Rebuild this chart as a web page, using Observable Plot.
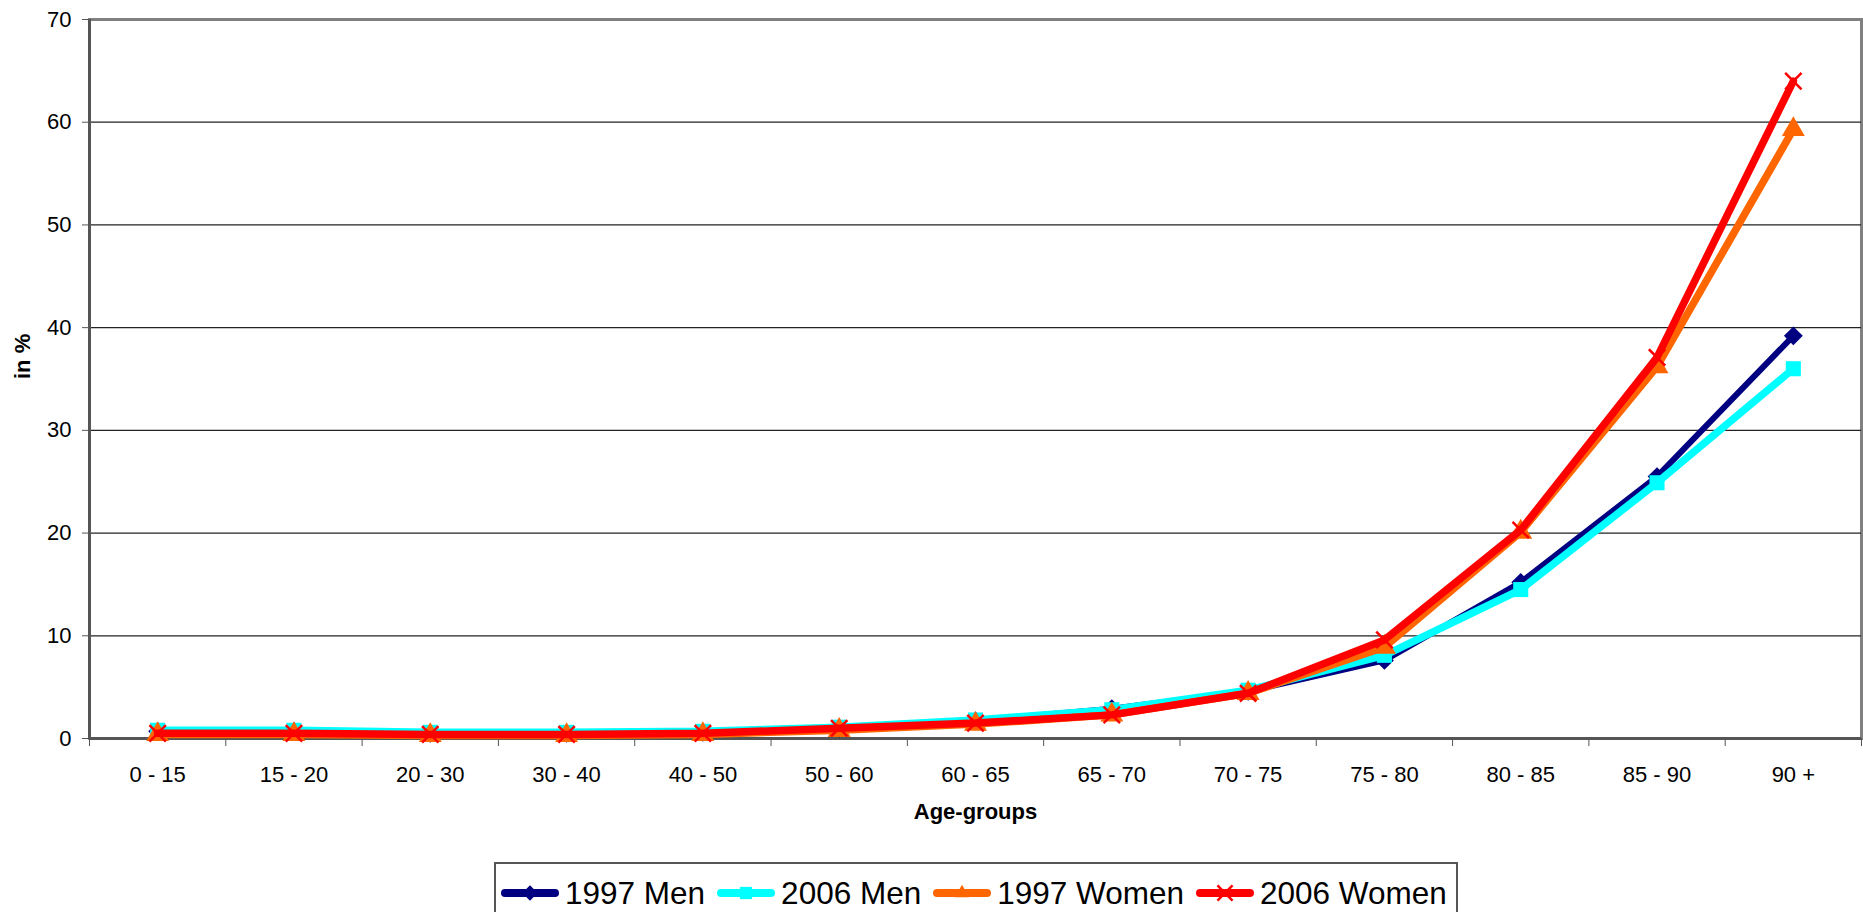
<!DOCTYPE html>
<html>
<head>
<meta charset="utf-8">
<script src="https://cdn.jsdelivr.net/npm/d3@7"></script>
<script src="https://cdn.jsdelivr.net/npm/@observablehq/plot@0.6"></script>
<style>
  html, body { margin: 0; padding: 0; background: #fff; overflow: hidden; }
  body { font-family: "Liberation Sans", Arial, sans-serif; width: 1863px; height: 912px; position: relative; }
  #legend { position: absolute; left: 494px; top: 862px; width: 964px; height: 60px; border: 2px solid #555; box-sizing: border-box; padding-top: 7px; background: #fff; }
  #legend .row { display: flex; align-items: center; height: 44px; padding-left: 5px; white-space: nowrap; }
  #legend .item { display: flex; align-items: center; margin-right: 12px; flex-shrink: 0; white-space: nowrap; }
  #legend .item svg { flex-shrink: 0; }
  #legend .item span { font-size: 31.5px; margin-left: 6px; color: #000; white-space: nowrap; }
</style>
</head>
<body>
<div id="chart"></div>
<div id="legend"><div class="row"></div></div>
<script>
const categories = ["0 - 15","15 - 20","20 - 30","30 - 40","40 - 50","50 - 60","60 - 65","65 - 70","70 - 75","75 - 80","80 - 85","85 - 90","90 +"];
const men1997   = [0.7, 0.7, 0.5, 0.5, 0.6, 1.0, 1.7, 2.9, 4.6, 7.6, 15.2, 25.5, 39.2];
const men2006   = [0.8, 0.8, 0.6, 0.6, 0.7, 1.1, 1.8, 2.8, 4.7, 8.1, 14.5, 24.9, 36.0];
const women1997 = [0.4, 0.4, 0.3, 0.3, 0.4, 0.8, 1.4, 2.3, 4.4, 8.9, 20.1, 36.2, 59.3];
const women2006 = [0.5, 0.5, 0.4, 0.4, 0.5, 1.0, 1.5, 2.3, 4.4, 9.6, 20.3, 37.1, 64.0];
const seriesNames = ["1997 Men", "2006 Men", "1997 Women", "2006 Women"];
const seriesValues = [men1997, men2006, women1997, women2006];
const seriesColors = ["#000080", "#00FFFF", "#FF6600", "#FF0000"];
const seriesSymbols = ["diamond2", "square", "triangle", "times"];
const yTicks = [0, 10, 20, 30, 40, 50, 60, 70];

const idx = categories.map((_, i) => i);
const boundaries = categories.map((_, i) => i - 0.5).concat([categories.length - 0.5]);

const marks = [
  Plot.frame({stroke: "#808080", strokeWidth: 3}),
  Plot.gridY({ticks: yTicks.filter(t => t > 0 && t < 70), stroke: "#222", strokeOpacity: 1, strokeWidth: 1.3}),
  Plot.ruleX([boundaries[0]], {stroke: "#555", strokeWidth: 3}),
  Plot.ruleY([0], {stroke: "#555", strokeWidth: 3}),
  Plot.axisY({ticks: yTicks, tickSize: 7, tickPadding: 11, label: null, stroke: "#555", fontSize: 22}),
  Plot.axisX({ticks: boundaries, tickSize: 8, tickFormat: () => "", label: null, stroke: "#555"}),
  Plot.axisX({ticks: idx, tickSize: 0, tickPadding: 28, tickFormat: i => categories[i], label: null, fontSize: 22}),
  Plot.text(["in %"], {frameAnchor: "left", rotate: -90, dx: -67, fontWeight: "bold", fontSize: 22}),
  Plot.text(["Age-groups"], {frameAnchor: "bottom", dy: 80, fontWeight: "bold", fontSize: 22})
];

seriesNames.forEach((name, s) => {
  const rows = seriesValues[s].map((v, i) => ({i, v, name}));
  marks.push(Plot.line(rows, {x: "i", y: "v", stroke: seriesColors[s], strokeWidth: s === 0 ? 6 : 7.5, strokeLinejoin: "round"}));
  if (seriesSymbols[s] === "times") {
    marks.push(Plot.dot(rows, {x: "i", y: "v", symbol: "times", r: 7.5, stroke: seriesColors[s], strokeWidth: 2.5}));
  } else {
    marks.push(Plot.dot(rows, {x: "i", y: "v", symbol: seriesSymbols[s], r: 8.5, fill: seriesColors[s], stroke: "none"}));
  }
});

const chart = Plot.plot({
  width: 1863,
  height: 858,
  marginTop: 19,
  marginBottom: 120,
  marginLeft: 89,
  marginRight: 2,
  style: {fontFamily: "'Liberation Sans', Arial, sans-serif", fontSize: "22px", color: "#000", background: "#fff"},
  x: {type: "linear", domain: [boundaries[0], boundaries[boundaries.length - 1]], axis: null},
  y: {domain: [0, 70], axis: null},
  marks
});
document.getElementById("chart").appendChild(chart);

// HTML legend
const row = document.querySelector("#legend .row");
seriesNames.forEach((name, s) => {
  const item = document.createElement("div");
  item.className = "item";
  const ns = "http://www.w3.org/2000/svg";
  const svg = document.createElementNS(ns, "svg");
  svg.setAttribute("width", 58); svg.setAttribute("height", 24);
  const line = document.createElementNS(ns, "line");
  line.setAttribute("x1", 4); line.setAttribute("x2", 54); line.setAttribute("y1", 12); line.setAttribute("y2", 12);
  line.setAttribute("stroke", seriesColors[s]); line.setAttribute("stroke-width", 8); line.setAttribute("stroke-linecap", "round");
  svg.appendChild(line);
  const sym = {diamond2: d3.symbolDiamond2, square: d3.symbolSquare, triangle: d3.symbolTriangle2, times: d3.symbolTimes}[seriesSymbols[s]];
  const p = document.createElementNS(ns, "path");
  p.setAttribute("d", d3.symbol(sym, 150)());
  p.setAttribute("transform", "translate(29,12)");
  if (seriesSymbols[s] === "times") { p.setAttribute("stroke", seriesColors[s]); p.setAttribute("stroke-width", 2.5); p.setAttribute("fill", "none"); }
  else p.setAttribute("fill", seriesColors[s]);
  svg.appendChild(p);
  item.appendChild(svg);
  const t = document.createElement("span");
  t.textContent = name;
  item.appendChild(t);
  row.appendChild(item);
});
</script>
</body>
</html>
